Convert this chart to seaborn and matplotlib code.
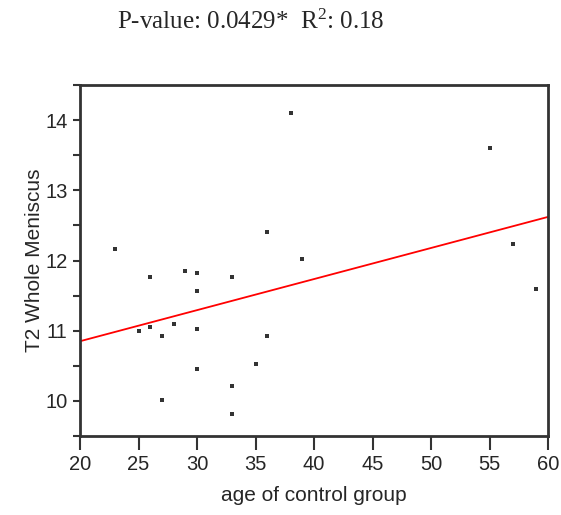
import numpy as np
import pandas as pd
import matplotlib
matplotlib.use("Agg")
import matplotlib.pyplot as plt
import seaborn as sns

age = [23, 26, 29, 30, 30, 33, 36, 39, 38, 25, 26, 27, 28, 30, 36, 30, 35, 33, 27, 33, 55, 57, 59]
t2 = [12.16, 11.77, 11.85, 11.82, 11.57, 11.77, 12.40, 12.02, 14.10, 10.99, 11.05, 10.93, 11.10,
      11.02, 10.93, 10.46, 10.52, 10.21, 10.01, 9.82, 13.60, 12.24, 11.60]
x_ticks = [20, 25, 30, 35, 40, 45, 50, 55, 60]
y_ticks = [10, 11, 12, 13, 14]

df = pd.DataFrame({"age": age, "t2": t2})

sns.set_style("ticks")
plt.rcParams['font.family'] = ['Liberation Sans', 'DejaVu Sans']
plt.rcParams['mathtext.fontset'] = 'custom'
plt.rcParams['mathtext.rm'] = 'Liberation Serif'
plt.rcParams['mathtext.it'] = 'Liberation Serif:italic'

fig = plt.figure(figsize=(5.61, 5.15), dpi=100)
ax = fig.add_axes([80/561, 1-436/515, 468/561, 351/515])
ax.set_xlim(20, 60)
ax.set_ylim(9.5, 14.5)

sns.regplot(data=df, x="age", y="t2", ax=ax, ci=None, truncate=False,
            marker="s", scatter_kws=dict(s=9, color="black", linewidths=0),
            line_kws=dict(color="red", lw=1.3))
ax.set_xlim(20, 60)
ax.set_ylim(9.5, 14.5)

ax.set_xticks(x_ticks)
ax.set_yticks(y_ticks)
ax.set_yticks(np.arange(9.5, 14.51, 0.5), minor=True)
ax.tick_params(axis='x', length=10, width=1.5, color='#333333', labelsize=14.5, pad=4)
ax.tick_params(axis='y', which='both', length=5, width=1.5, color='#333333', labelsize=14.5, pad=4)
for s in ax.spines.values():
    s.set_visible(True)
    s.set_linewidth(2)
    s.set_color('#333333')

ax.set_xlabel("age of control group", fontsize=15, labelpad=8)
ax.set_ylabel("T2 Whole Meniscus", fontsize=15, labelpad=1)

fig.text(117/561, 1-22/515, "P-value: 0.0429*  R$\\mathrm{^2}$: 0.18", fontsize=18,
         family=['Liberation Serif', 'DejaVu Serif'], va='center', ha='left')

fig.savefig("out.png", dpi=100, facecolor='white')
